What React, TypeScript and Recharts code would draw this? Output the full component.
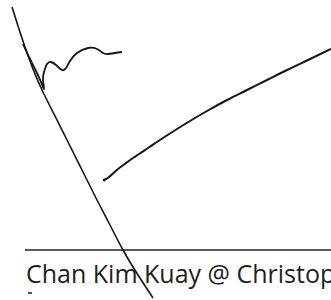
import { LineChart, Line, XAxis, YAxis, ReferenceLine } from "recharts";

// pen strokes of the scanned signature, traced in page pixels
const longStroke = [
  { x: 12, y: 7 },
  { x: 18, y: 26 },
  { x: 25, y: 47 },
  { x: 33, y: 69 },
  { x: 42, y: 90 },
  { x: 55, y: 116 },
  { x: 67, y: 140 },
  { x: 82, y: 170 },
  { x: 97, y: 200 },
  { x: 110, y: 225 },
  { x: 123, y: 250 },
  { x: 138, y: 275 },
  { x: 153, y: 298 },
];

const loopAndWave = [
  { x: 23, y: 44 },
  { x: 29, y: 57 },
  { x: 36, y: 71 },
  { x: 41, y: 82 },
  { x: 44, y: 89 },
  { x: 43, y: 80 },
  { x: 44, y: 72 },
  { x: 47, y: 64 },
  { x: 51, y: 62 },
  { x: 56, y: 65 },
  { x: 62, y: 70 },
  { x: 66, y: 68 },
  { x: 70, y: 61 },
  { x: 77, y: 53 },
  { x: 88, y: 48 },
  { x: 97, y: 49 },
  { x: 103, y: 53 },
  { x: 108, y: 54 },
  { x: 115, y: 53 },
  { x: 122, y: 52 },
];

const risingStroke = [
  { x: 105, y: 181 },
  { x: 103, y: 180 },
  { x: 118, y: 169 },
  { x: 133, y: 158 },
  { x: 148, y: 148 },
  { x: 163, y: 138 },
  { x: 185, y: 124 },
  { x: 207, y: 111 },
  { x: 227, y: 100 },
  { x: 247, y: 90 },
  { x: 267, y: 80 },
  { x: 287, y: 70 },
  { x: 308, y: 60 },
  { x: 331, y: 49 },
];

const smallMark = [
  { x: 28, y: 293 },
  { x: 32, y: 293 },
];

const signLine = [
  { x: 25, y: 250 },
  { x: 331, y: 250 },
];

const caption = "Chan Kim Kuay @ Christopher";

const INK = "#151515";

export default function App() {
  return (
    <div
      style={{
        position: "absolute",
        left: 0,
        top: 0,
        width: 331,
        height: 300,
        overflow: "hidden",
        background: "#fff",
      }}
    >
      <LineChart width={331} height={300} margin={{ top: 0, right: 0, bottom: 0, left: 0 }}>
        <XAxis type="number" dataKey="x" domain={[0, 331]} hide allowDataOverflow />
        <YAxis type="number" domain={[0, 300]} reversed hide allowDataOverflow />
        <ReferenceLine segment={signLine} stroke="#222" strokeWidth={1.3} />
        <Line
          data={longStroke}
          dataKey="y"
          type="natural"
          stroke={INK}
          strokeWidth={1.6}
          dot={false}
          activeDot={false}
          isAnimationActive={false}
        />
        <Line
          data={loopAndWave}
          dataKey="y"
          type="natural"
          stroke={INK}
          strokeWidth={1.8}
          dot={false}
          activeDot={false}
          isAnimationActive={false}
        />
        <Line
          data={risingStroke}
          dataKey="y"
          type="monotoneX"
          stroke={INK}
          strokeWidth={2}
          dot={false}
          activeDot={false}
          isAnimationActive={false}
        />
        <Line
          data={smallMark}
          dataKey="y"
          type="linear"
          stroke={INK}
          strokeWidth={1.5}
          dot={false}
          activeDot={false}
          isAnimationActive={false}
        />
      </LineChart>
      <div
        style={{
          position: "absolute",
          left: 26,
          top: 261,
          fontFamily: "'Open Sans', sans-serif",
          fontSize: 25,
          lineHeight: 1,
          color: "#1e1e1e",
          whiteSpace: "nowrap",
        }}
      >
        {caption}
      </div>
    </div>
  );
}
